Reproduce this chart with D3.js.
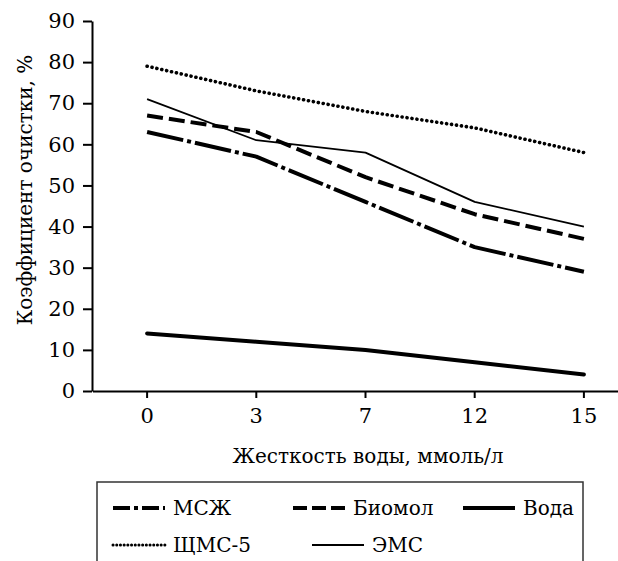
<!DOCTYPE html>
<html>
<head>
<meta charset="utf-8">
<script src="https://cdn.jsdelivr.net/npm/d3@7"></script>
<style>
  body { margin: 0; background: #fff; }
</style>
</head>
<body>
<script>
// hardness values on the x axis (categorical)
const hardness = ["0", "3", "7", "12", "15"];
const yTicks = [0, 10, 20, 30, 40, 50, 60, 70, 80, 90];

// cleaning coefficient, %
const mszh = [63, 57, 46, 35, 29];
const biomol = [67, 63, 52, 43, 37];
const voda = [14, 12, 10, 7, 4];
const shms5 = [79, 73, 68, 64, 58];
const ems = [71, 61, 58, 46, 40];

const seriesNames = ["МСЖ", "Биомол", "Вода", "ЩМС-5", "ЭМС"];

// line styles per series (same order as seriesNames)
const styles = [
  { width: 4, dash: "37,4,4,4", legendDash: "17,4,4,4", cap: "butt" },
  { width: 4, dash: "16,6", legendDash: "14,5", cap: "butt" },
  { width: 4, dash: null, legendDash: null, cap: "round" },
  { width: 3.6, dash: "0.1,4.9", legendDash: "0.1,3.6", cap: "round" },
  { width: 1.8, dash: null, legendDash: null, cap: "butt" }
];

// legend layout: [sample x, row y]
const legendPos = [[113, 508], [293, 508], [463, 508], [113, 545], [312, 545]];

// serif like the original (Times); DejaVu Serif is the one that resolves here
const font = "'DejaVu Serif', 'Noto Serif', serif";

const w = 618, h = 561;
const svg = d3.select("body").append("svg").attr("width", w).attr("height", h)
  .style("font-family", font);

const x = d3.scaleBand().domain(hardness).range([92.5, 638.5]).padding(0);
const y = d3.scaleLinear().domain([0, 90]).range([391, 21]);

// y axis
const yAxis = svg.append("g")
  .attr("transform", "translate(92,0)")
  .call(d3.axisLeft(y).tickValues(yTicks).tickSize(9).tickSizeOuter(0).tickPadding(8));
yAxis.attr("font-family", font);
yAxis.selectAll("text").attr("font-size", 21).attr("fill", "#000");
yAxis.selectAll("line").attr("stroke-width", 2);
yAxis.select(".domain").attr("stroke-width", 2);

// x axis
const xAxis = svg.append("g")
  .attr("transform", "translate(0,391)")
  .call(d3.axisBottom(x).tickSize(7).tickSizeOuter(0).tickPadding(10));
xAxis.attr("font-family", font);
xAxis.selectAll("text").attr("font-size", 21).attr("fill", "#000");
xAxis.selectAll("line").attr("stroke-width", 2);
xAxis.select(".domain").attr("stroke-width", 2);

// axis titles
svg.append("text")
  .attr("transform", "translate(32,190) rotate(-90)")
  .attr("text-anchor", "middle")
  .attr("font-size", 20)
  .text("Коэффициент очистки, %");

svg.append("text")
  .attr("x", 368)
  .attr("y", 463)
  .attr("text-anchor", "middle")
  .attr("font-size", 20)
  .text("Жесткость воды, ммоль/л");

// lines
const allSeries = [mszh, biomol, voda, shms5, ems];
const line = d3.line()
  .x((d, i) => x(hardness[i]) + x.bandwidth() / 2)
  .y(d => y(d));

// draw thin ones first so thick ones overlap like the reference
[4, 3, 2, 1, 0].forEach(i => {
  svg.append("path")
    .datum(allSeries[i])
    .attr("fill", "none")
    .attr("stroke", "#000")
    .attr("stroke-width", styles[i].width)
    .attr("stroke-dasharray", styles[i].dash)
    .attr("stroke-linecap", styles[i].cap)
    .attr("stroke-linejoin", "round")
    .attr("d", line);
});

// legend
svg.append("rect")
  .attr("x", 97).attr("y", 482)
  .attr("width", 486).attr("height", 110)
  .attr("fill", "none").attr("stroke", "#333").attr("stroke-width", 1.5);

const legend = svg.append("g");
seriesNames.forEach((name, i) => {
  const [lx, ly] = legendPos[i];
  legend.append("line")
    .attr("x1", lx).attr("x2", lx + 52)
    .attr("y1", ly).attr("y2", ly)
    .attr("stroke", "#000")
    .attr("stroke-width", i === 3 ? 3 : styles[i].width)
    .attr("stroke-dasharray", styles[i].legendDash)
    .attr("stroke-linecap", i === 3 ? "round" : "butt");
  legend.append("text")
    .attr("x", lx + 60).attr("y", ly + 7)
    .attr("font-size", 20)
    .text(name);
});
</script>
</body>
</html>
